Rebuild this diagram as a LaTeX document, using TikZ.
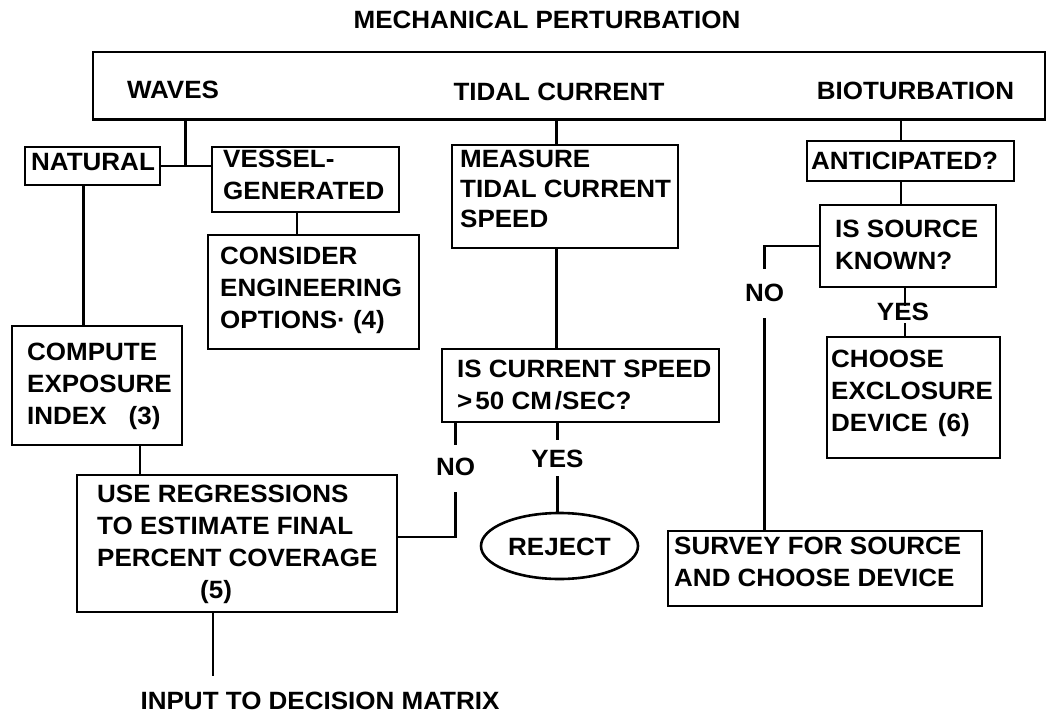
\documentclass[tikz,border=0pt]{standalone}
\usepackage{fontspec}
\setmainfont{Liberation Sans}[FakeStretch=1.04]
\usetikzlibrary{shapes.geometric}
\tikzset{
  box/.style={draw, rectangle, line width=2.6pt, inner sep=0pt},
  oval/.style={draw, ellipse, line width=2.6pt, inner sep=0pt},
  txt/.style={font=\bfseries\fontsize{25}{32}\selectfont, align=left, inner sep=0pt, anchor=north west},
  lbl/.style={font=\bfseries\fontsize{25}{32}\selectfont, inner sep=0pt, anchor=base},
  conn/.style={line width=2.6pt, line cap=rect},
}
\begin{document}
\begin{tikzpicture}[x=1pt,y=-1pt]
\useasboundingbox (0,0) rectangle (1047,715);

% title and header
\node[lbl] (title) at (547,28) {MECHANICAL PERTURBATION};
\node[box, minimum width=952pt, minimum height=67.5pt] (top) at (569,85.75) {};
\node[lbl] (waves) at (173,98) {WAVES};
\node[lbl] (tidal) at (559,100) {TIDAL CURRENT};
\node[lbl] (bio) at (915.5,99) {BIOTURBATION};

% waves branch
\node[box, minimum width=135pt, minimum height=38pt] (natural) at (92.5,166) {};
\node[txt] (natural-t) at (31,153) {NATURAL};
\node[box, minimum width=187pt, minimum height=65pt] (vessel) at (305.5,179.5) {};
\node[txt] (vessel-t) at (223,150) {VESSEL-\\GENERATED};
\node[box, minimum width=211pt, minimum height=114pt] (consider) at (313.5,292) {};
\node[txt] (consider-t) at (220,247) {CONSIDER\\ENGINEERING\\OPTIONS· (4)};
\node[box, minimum width=170pt, minimum height=119pt] (compute) at (97,385.5) {};
\node[txt] (compute-t) at (27,343) {COMPUTE\\EXPOSURE\\INDEX\hspace{22pt}(3)};
\node[box, minimum width=320pt, minimum height=137pt] (use) at (237,543.5) {};
\node[txt] (use-t) at (97,485) {USE REGRESSIONS\\TO ESTIMATE FINAL\\PERCENT COVERAGE\\\hspace*{103pt}(5)};
\node[lbl] (input) at (320,709) {INPUT TO DECISION MATRIX};

% tidal branch
\node[box, minimum width=226pt, minimum height=103pt] (measure) at (565,196.5) {};
\node[txt, font=\bfseries\fontsize{25}{30}\selectfont] (measure-t) at (460,150) {MEASURE\\TIDAL CURRENT\\SPEED};
\node[box, minimum width=277pt, minimum height=73pt] (iscurrent) at (580.5,385.5) {};
\node[txt] (iscurrent-t) at (457,360) {IS CURRENT SPEED\\>\hspace{3pt}50 CM\hspace{3pt}/SEC?};
\node[oval, minimum width=157pt, minimum height=66pt] (reject) at (559.5,546) {};
\node[lbl] (reject-t) at (559.5,555) {REJECT};
\node[lbl] (no1) at (455.5,475) {NO};
\node[lbl] (yes1) at (557.5,467) {YES};

% bioturbation branch
\node[box, minimum width=207pt, minimum height=40pt] (anticipated) at (910.5,161) {};
\node[txt] (anticipated-t) at (811,152) {ANTICIPATED?};
\node[box, minimum width=176pt, minimum height=82pt] (issource) at (908,246) {};
\node[txt] (issource-t) at (835,220) {IS SOURCE\\KNOWN?};
\node[box, minimum width=173pt, minimum height=121pt] (choose) at (913.5,397.5) {};
\node[txt] (choose-t) at (831,350) {CHOOSE\\EXCLOSURE\\DEVICE\hspace{10pt}(6)};
\node[box, minimum width=314pt, minimum height=75pt] (survey) at (825,568.5) {};
\node[txt] (survey-t) at (674,537) {SURVEY FOR SOURCE\\AND CHOOSE DEVICE};
\node[lbl] (no2) at (764.5,301) {NO};
\node[lbl] (yes2) at (903,320) {YES};

% helper coordinates
\coordinate (xw) at (185.6,0);
\coordinate (xv) at (297,0);
\coordinate (xn) at (83.5,0);
\coordinate (xc) at (140,0);
\coordinate (xu) at (213,0);
\coordinate (inputend) at (213,675);
\coordinate (xt) at (556.5,0);
\coordinate (xb) at (901,0);
\coordinate (xy2) at (905,0);
\coordinate (nj) at (0,537);

% connectors: waves
\draw[conn] (top.south -| xw) -- (natural.east -| xw);
\draw[conn] (natural.east) -- (vessel.west |- natural.east);
\draw[conn] (vessel.south -| xv) -- (consider.north -| xv);
\draw[conn] (natural.south -| xn) -- (compute.north -| xn);
\draw[conn] (compute.south -| xc) -- (use.north -| xc);
\draw[conn] (use.south -| xu) -- (inputend);

% connectors: tidal
\draw[conn] (top.south -| xt) -- (measure.north -| xt);
\draw[conn] (measure.south -| xt) -- (iscurrent.north -| xt);
\draw[conn] (iscurrent.south -| no1) -- ([yshift=14pt]no1.north);
\draw[conn] ([yshift=-18pt]no1.south) -- (no1.south |- nj) -- (use.east |- nj);
\draw[conn] (iscurrent.south -| yes1) -- ([yshift=11pt]yes1.north);
\draw[conn] ([yshift=-10pt]yes1.south) -- (reject.north -| yes1);

% connectors: bioturbation
\draw[conn] (top.south -| xb) -- (anticipated.north -| xb);
\draw[conn] (anticipated.south -| xb) -- (issource.north -| xb);
\draw[conn] (issource.west) -| ([yshift=16pt]no2.north);
\draw[conn] ([yshift=-18pt]no2.south) -- (survey.north -| no2);
\draw[conn] (issource.south -| xy2) -- ([yshift=-2pt]yes2.north -| xy2);
\draw[conn] ([yshift=-4pt]yes2.south -| xy2) -- (choose.north -| xy2);
\end{tikzpicture}
\end{document}
